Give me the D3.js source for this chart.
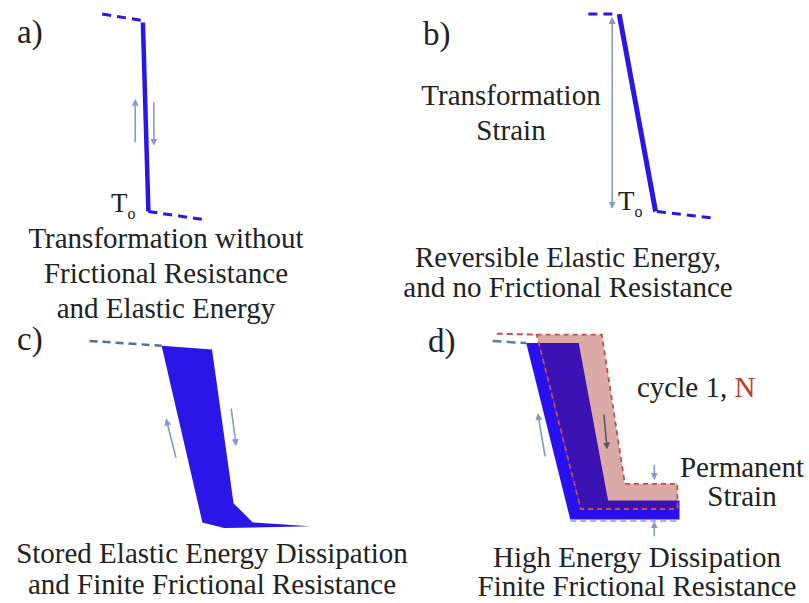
<!DOCTYPE html>
<html>
<head>
<meta charset="utf-8">
<script src="https://cdn.jsdelivr.net/npm/d3@7"></script>
<style>
  body { margin: 0; background: #fff; }
  text { font-family: "Liberation Serif", "Times New Roman", serif; fill: #222; }
</style>
</head>
<body>
<div id="fig" style="width:809px;height:603px"></div>
<script>
  // curves in (temperature, strain) units, 0-100 per panel
  const aTop = [[2, 99], [38, 96]];
  const aLoop = [[39, 95], [44, 5]];
  const aBottom = [[44, 5], [96, 1]];
  const aArrowUp = [[32, 38], [32, 58]];
  const aArrowDown = [[49, 57], [49, 37]];

  const bTop = [[6, 99], [26, 99]];
  const bLoop = [[28, 99], [54, 5]];
  const bBottom = [[55, 5], [94, 2]];
  const bStrain = [[23, 97], [23, 7]];

  const cTop = [[4, 99.5], [34, 97]];
  const cLoop = [[34, 97], [55, 95], [64, 14], [72, 4], [96, 2], [60, 1], [51, 4]];
  const cArrowUp = [[40, 38], [36, 58]];
  const cArrowDown = [[63, 64], [65, 45]];

  const dTop1 = [[6, 90], [22, 89]];
  const dLoop1 = [[22, 89], [47, 89], [61, 14], [95, 14], [95, 5], [43, 5]];
  const dBottom1 = [[43, 4.3], [95, 4.3]];
  const dTopN = [[8, 93.5], [27, 93]];
  const dLoopN = [[27, 93], [58, 93], [69, 22], [94, 22], [94, 10], [48, 10]];
  const dArrowUp = [[31, 35], [27.6, 55]];
  const dArrowDown = [[59, 55], [60.5, 39]];
  const dPermTop = [[83, 31], [83, 24.5]];
  const dPermBottom = [[83, -3], [83, 3.5]];

  const panelLabels = ["a)", "b)", "c)", "d)"];
  const aCaption = ["Transformation without", "Frictional Resistance", "and Elastic Energy"];
  const bSide = ["Transformation", "Strain"];
  const bCaption = ["Reversible Elastic Energy,", "and no Frictional Resistance"];
  const cCaption = ["Stored Elastic Energy Dissipation", "and Finite Frictional Resistance"];
  const dCaption = ["High Energy Dissipation", "Finite Frictional Resistance"];
  const dSide = ["Permanent", "Strain"];
  const cycleLabel = ["cycle 1, ", "N"];
  const tempLabel = ["T", "o"];

  const blue = "#2a16e6";
  const arrowCol = "#8799c9";

  var svg = d3.select("#fig")
    .append("svg")
    .attr("width", 809)
    .attr("height", 603);

  var defs = svg.append("defs");
  function marker(id, color) {
    defs.append("marker")
      .attr("id", id)
      .attr("viewBox", "0 0 10 10")
      .attr("refX", 8).attr("refY", 5)
      .attr("markerWidth", 7).attr("markerHeight", 7)
      .attr("markerUnits", "userSpaceOnUse")
      .attr("orient", "auto-start-reverse")
      .append("path")
      .attr("d", "M0,0 L10,5 L0,10 z")
      .attr("fill", color);
  }
  marker("head", arrowCol);
  marker("headDark", "#5a5a66");

  function panel(xr, yr) {
    return {
      x: d3.scaleLinear().domain([0, 100]).range(xr),
      y: d3.scaleLinear().domain([0, 100]).range(yr)
    };
  }
  const pa = panel([100, 210], [222, 12]);
  const pb = panel([580, 720], [222, 12]);
  const pc = panel([80, 320], [530, 340]);
  const pd = panel([480, 690], [530, 320]);

  function gen(p, closed) {
    let l = d3.line().x(d => p.x(d[0])).y(d => p.y(d[1]));
    return pts => l(pts) + (closed ? "Z" : "");
  }

  function curve(p, pts, color, width, dash) {
    svg.append("path")
      .attr("d", gen(p)(pts))
      .style("fill", "none")
      .style("stroke", color)
      .style("stroke-width", width + "px")
      .style("stroke-linejoin", "round")
      .style("stroke-dasharray", dash || null);
  }

  function area(p, pts, color) {
    return svg.append("path")
      .attr("d", gen(p, true)(pts))
      .style("fill", color)
      .style("stroke", "none");
  }

  function arrow(p, pts, color, head, both) {
    let a = svg.append("path")
      .attr("d", gen(p)(pts))
      .style("fill", "none")
      .style("stroke", color)
      .style("stroke-width", "1.6px")
      .attr("marker-end", "url(#" + head + ")");
    if (both) a.attr("marker-start", "url(#" + head + ")");
  }

  function lines(arr, x, ys, size) {
    arr.forEach((t, i) => {
      svg.append("text")
        .attr("x", x).attr("y", ys[i])
        .attr("text-anchor", "middle")
        .style("font-size", size + "px")
        .text(t);
    });
  }

  function tLabel(x, y) {
    let t = svg.append("text").attr("x", x).attr("y", y).style("font-size", "27px");
    t.append("tspan").text(tempLabel[0]);
    t.append("tspan").attr("dy", 7).style("font-size", "16px").text(tempLabel[1]);
  }

  // a)
  curve(pa, aTop, blue, 3, "9,6");
  curve(pa, aLoop, blue, 4.5);
  curve(pa, aBottom, blue, 3, "9,6");
  arrow(pa, aArrowUp, arrowCol, "head");
  arrow(pa, aArrowDown, arrowCol, "head");
  tLabel(111, 212);

  // b)
  curve(pb, bTop, blue, 3, "9,6");
  curve(pb, bLoop, blue, 5);
  curve(pb, bBottom, blue, 3, "9,6");
  arrow(pb, bStrain, arrowCol, "head", true);
  tLabel(618, 210);

  // c)
  curve(pc, cTop, "#5b6aa6", 2.5, "8,5");
  area(pc, cLoop, blue);
  arrow(pc, cArrowUp, arrowCol, "head");
  arrow(pc, cArrowDown, arrowCol, "head");

  // d)
  curve(pd, dTop1, "#5b7ab8", 2.5, "9,5");
  area(pd, dLoop1, "#2a10ee");
  curve(pd, dBottom1, "#8a9acc", 1.5, "6,4");
  area(pd, dLoopN, "#dcaaa6");
  defs.append("clipPath").attr("id", "clip1")
    .append("path").attr("d", gen(pd, true)(dLoop1));
  area(pd, dLoopN, "#3b12b4").attr("clip-path", "url(#clip1)");
  curve(pd, dTopN, "#c0504d", 2, "6,4");
  svg.append("path")
    .attr("d", gen(pd, true)(dLoopN))
    .style("fill", "none")
    .style("stroke", "#c0504d")
    .style("stroke-width", "1.8px")
    .style("stroke-dasharray", "5,4");
  arrow(pd, dArrowUp, arrowCol, "head");
  arrow(pd, dArrowDown, "#5a5a66", "headDark");
  arrow(pd, dPermTop, arrowCol, "head");
  arrow(pd, dPermBottom, arrowCol, "head");

  // texts
  [[17, 43], [423, 45], [17, 350], [428, 352]].forEach((xy, i) => {
    svg.append("text").attr("x", xy[0]).attr("y", xy[1])
      .style("font-size", "33px").text(panelLabels[i]);
  });
  lines(aCaption, 166, [248, 283, 318], 29);
  lines(bSide, 511, [105, 140], 29);
  lines(bCaption, 568, [267, 297], 29);
  lines(cCaption, 212, [563, 594], 29);
  lines(dCaption, 637, [567, 596], 29);
  lines(dSide, 742, [477, 506], 29);
  let cy = svg.append("text").attr("x", 637).attr("y", 397).style("font-size", "29px");
  cy.append("tspan").text(cycleLabel[0]);
  cy.append("tspan").style("fill", "#c0392b").text(cycleLabel[1]);
</script>
</body>
</html>
